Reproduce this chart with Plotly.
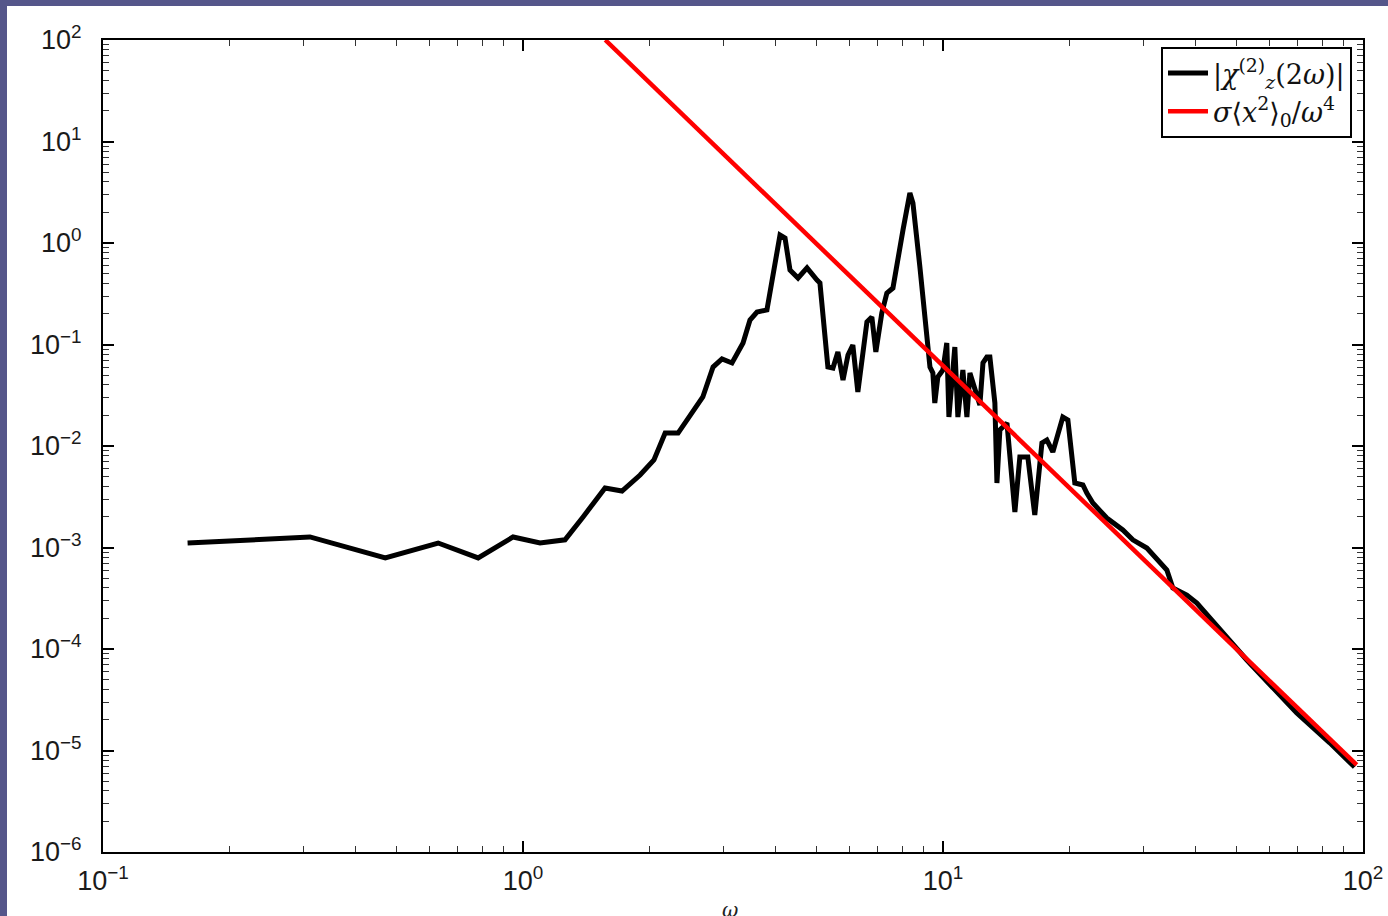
import plotly.graph_objects as go

# |chi_z^(2)(2w)|
omega = [0.159, 0.311, 0.470, 0.628, 0.782, 0.947, 1.098, 1.259, 1.39, 1.568, 1.721, 1.90, 2.05, 2.18, 2.34,
         2.50, 2.68, 2.835, 2.977, 3.145, 3.341, 3.471, 3.607, 3.809, 4.092, 4.206, 4.322, 4.517, 4.745, 5.012,
         5.093, 5.32, 5.47, 5.62, 5.78, 5.94, 6.10, 6.27, 6.59, 6.77, 6.92, 7.15, 7.35, 7.60, 7.77, 8.03, 8.34,
         8.48, 8.81, 9.21, 9.31, 9.46, 9.56, 9.72, 9.995, 10.21, 10.33, 10.67, 10.85, 11.15, 11.40, 11.59, 12.24,
         12.45, 12.72, 12.93, 13.29, 13.44, 13.66, 14.20, 14.83, 15.24, 15.92, 16.54, 17.20, 17.67, 18.26, 19.29,
         19.83, 20.6, 21.53, 22.0, 22.74, 24.55, 26.80, 28.31, 30.58, 34.12, 35.26, 38.07, 40.22, 52.88, 69.55,
         83.34, 92.98, 95.5]
chi2 = [1.107e-3, 1.27e-3, 7.9e-4, 1.107e-3, 7.9e-4, 1.27e-3, 1.107e-3, 1.19e-3, 2.0e-3, 3.86e-3, 3.6e-3,
        5.18e-3, 7.28e-3, 1.34e-2, 1.34e-2, 1.98e-2, 3.04e-2, 0.060, 0.072, 0.0658, 0.1035, 0.174, 0.209, 0.219,
        1.20, 1.12, 0.542, 0.452, 0.568, 0.431, 0.404, 0.060, 0.0586, 0.0844, 0.0447, 0.0789, 0.0989, 0.0340,
        0.1667, 0.1866, 0.0844, 0.204, 0.321, 0.360, 0.635, 1.343, 3.11, 2.48, 0.581, 0.1035, 0.060, 0.0524,
        0.0265, 0.0479, 0.0561, 0.1035, 0.0193, 0.0944, 0.0193, 0.0561, 0.0193, 0.0524, 0.0253, 0.0658, 0.0753,
        0.0753, 0.0265, 4.32e-3, 0.0144, 0.01687, 2.24e-3, 7.8e-3, 7.8e-3, 2.09e-3, 0.0107, 0.01146, 8.73e-3,
        0.0193, 0.0180, 4.32e-3, 4.13e-3, 3.44e-3, 2.74e-3, 1.95e-3, 1.49e-3, 1.19e-3, 9.89e-4, 6.0e-4, 3.99e-4,
        3.40e-4, 2.84e-4, 7.8e-5, 2.34e-5, 1.19e-5, 7.54e-6, 6.87e-6]

# sigma <x^2>_0 / w^4 asymptote (read end points)
red_omega = [1.57, 10.0, 96.6]
red_val = [100.0, 6.15e-2, 7.2e-6]

x_tickvals = [0.1, 1, 10, 100]
x_ticktext = ["10<sup>\u22121</sup>", "10<sup>0</sup>", "10<sup>1</sup>", "10<sup>2</sup>"]
y_tickvals = [1e-6, 1e-5, 1e-4, 1e-3, 1e-2, 1e-1, 1, 10, 100]
y_ticktext = ["10<sup>\u22126</sup>", "10<sup>\u22125</sup>", "10<sup>\u22124</sup>", "10<sup>\u22123</sup>",
              "10<sup>\u22122</sup>", "10<sup>\u22121</sup>", "10<sup>0</sup>", "10<sup>1</sup>", "10<sup>2</sup>"]

legend_names = ["|<i>\u03c7</i><sup>(2)</sup><sub><i>z</i></sub>(2<i>\u03c9</i>)|",
                "<i>\u03c3</i>\u27e8<i>x</i><sup>2</sup>\u27e9<sub>0</sub>/<i>\u03c9</i><sup>4</sup>"]

x_minor = [m * 10.0 ** k for k in range(-1, 2) for m in range(2, 10)]
y_minor = [m * 10.0 ** k for k in range(-6, 2) for m in range(2, 10)]

fig = go.Figure()
fig.add_trace(go.Scatter(x=omega, y=chi2, mode="lines", name=legend_names[0],
                         line=dict(color="black", width=5)))
fig.add_trace(go.Scatter(x=red_omega, y=red_val, mode="lines", name=legend_names[1],
                         line=dict(color="#ff0000", width=4.5)))

W, H = 1388, 916
L, R, T, B = 103, 25, 40, 64
pw, ph = W - L - R, H - T - B

axis_common = dict(
    type="log", showgrid=False, zeroline=False,
    showline=True, linecolor="black", linewidth=2, mirror="allticks",
    ticks="inside", ticklen=11, tickwidth=1.5, tickcolor="black",
    tickfont=dict(family="Liberation Sans, Arial", size=27, color="#1a1a1a"),
)
minor_common = dict(ticks="inside", ticklen=6, tickwidth=1, tickcolor="#333", showgrid=False)

fig.update_xaxes(range=[-1, 2], tickvals=x_tickvals, ticktext=x_ticktext, ticklabelstandoff=4,
                 minor=dict(tickvals=x_minor, **minor_common), **axis_common)
fig.update_yaxes(range=[-6, 2], tickvals=y_tickvals, ticktext=y_ticktext, ticklabelstandoff=14,
                 minor=dict(tickvals=y_minor, **minor_common), **axis_common)

fig.update_layout(
    width=W, height=H,
    margin=dict(l=L, r=R, t=T, b=B, autoexpand=False),
    paper_bgcolor="#55568a", plot_bgcolor="white",
    showlegend=True,
    legend=dict(x=(1352 - L) / pw, xanchor="right", y=(H - B - 47) / ph, yanchor="top",
                bgcolor="white", bordercolor="black", borderwidth=2, itemwidth=40,
                font=dict(family="DejaVu Serif, Liberation Serif", size=27, color="#111")),
    shapes=[dict(type="rect", xref="paper", yref="paper", layer="below",
                 x0=(7 - L) / pw, x1=(W + 10 - L) / pw,
                 y0=(H - B - W) / ph, y1=(H - B - 6) / ph,
                 fillcolor="white", line=dict(width=0))],
    annotations=[dict(text="<i>\u03c9</i>", xref="paper", yref="paper",
                      x=(730 - L) / pw, y=(H - B - 896) / ph, xanchor="center", yanchor="top",
                      showarrow=False, font=dict(family="DejaVu Serif, Liberation Serif", size=20, color="#222"))],
)

fig.write_html("out.html", config={"displayModeBar": False},
               post_script="document.body.style.margin='0';document.body.style.overflow='hidden';")
